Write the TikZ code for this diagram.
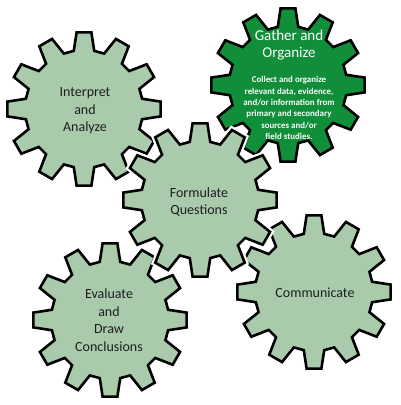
\documentclass[tikz,border=0pt]{standalone}
\usepackage{fontspec}
\setmainfont{Carlito}
\definecolor{gearlight}{RGB}{169,203,172}
\definecolor{geardark}{RGB}{16,142,58}
\definecolor{geartext}{RGB}{30,30,30}
\tikzset{
  gearline/.style={draw=black,line width=2.6pt,line join=miter,preaction={draw=white,line width=7pt}},
  geartitle/.style={align=center,text=geartext,font=\fontsize{14}{17.5}\selectfont},
  gearwhite/.style={align=center,text=white,font=\fontsize{15}{16.5}\selectfont},
  gearsmall/.style={align=center,text=white,font=\bfseries\fontsize{8.9}{11.3}\selectfont}
}
\newcommand\drawgear[3]{%
  \draw[gearline,fill=#3,shift={(#1,#2)}] (-10:59)
    \foreach \k in {0,...,11} {
      -- ({30*\k-10}:59) -- ({30*\k-5.5}:77) -- ({30*\k+5.5}:77) -- ({30*\k+10}:59)
    } -- cycle;}
\begin{document}
\begin{tikzpicture}[x=1pt,y=-1pt]
\useasboundingbox (0,0) rectangle (400,405);
\fill[white] (0,0) rectangle (400,405);
\drawgear{84}{109}{gearlight}
\drawgear{288}{85}{geardark}
\drawgear{110}{320}{gearlight}
\drawgear{314}{292}{gearlight}
\drawgear{200}{200}{gearlight}
\node[geartitle] (interpret) at (85,111) {Interpret\\and\\Analyze};
\node[gearwhite] (gather) at (289,45) {Gather and\\Organize};
\node[gearsmall] (gatherdesc) at (289,108) {Collect and organize\\relevant data, evidence,\\and/or information from\\primary and secondary\\sources and/or\\field studies.};
\node[geartitle] (formulate) at (199,202) {Formulate\\Questions};
\node[geartitle] (evaluate) at (109,320) {Evaluate\\and\\Draw\\Conclusions};
\node[geartitle] (communicate) at (315,293) {Communicate};
\end{tikzpicture}
\end{document}
